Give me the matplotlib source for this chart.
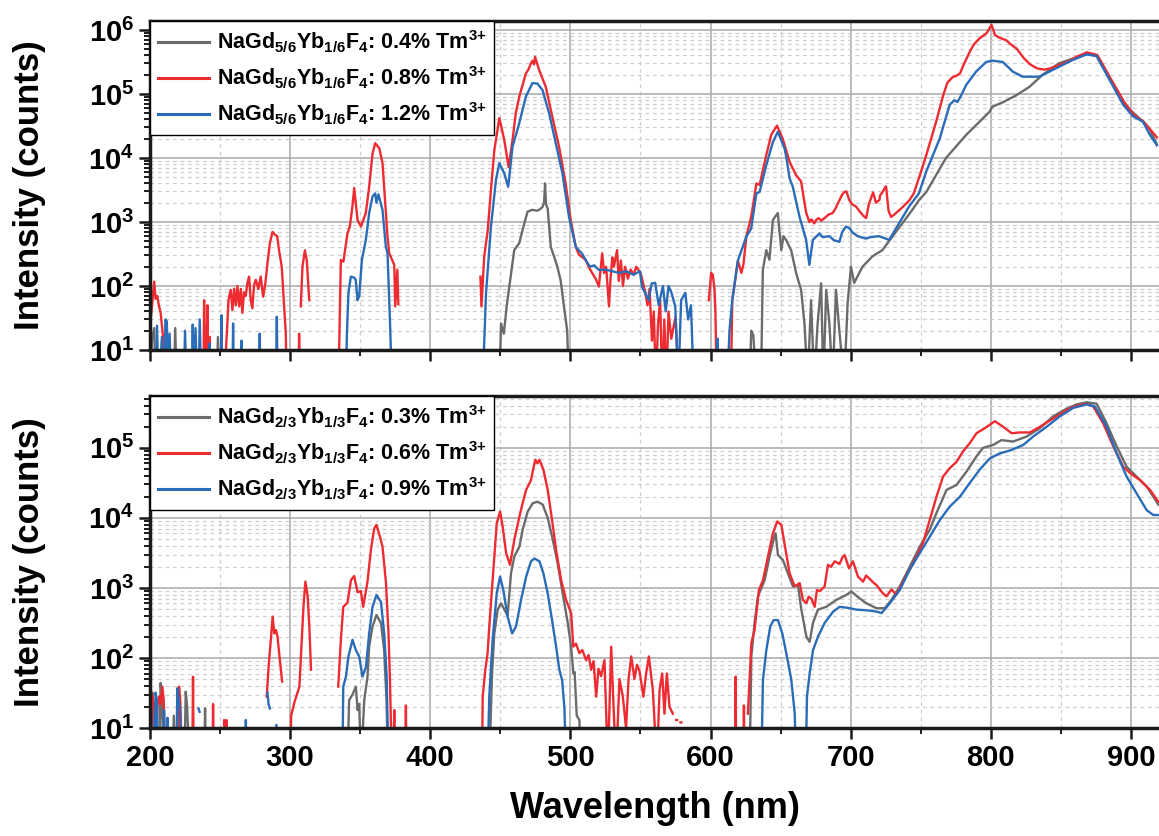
import numpy as np
import matplotlib
matplotlib.use("Agg")
import matplotlib.pyplot as plt
from matplotlib import font_manager
from matplotlib.ticker import MultipleLocator, LogLocator, FuncFormatter, NullFormatter

nan = np.nan
F = 3  # values below the axis floor (drawn down to the axis)

# ---------------- TOP PANEL: NaGd5/6Yb1/6F4 ----------------
top_gray_wl = [199.5, 201.5, 203, 204, nan, 207, 208.5, 209.5, nan, 211, 212, 213, nan, 217, 218, 219, nan,
               247.5, 248.5, 249.5, nan,
               449.3, 450.5, 452.5, 454.5, 456.4, 459.9, 463.5, 465.8, 469.4, 472.9, 476, 477.7, 480, 481.2, 481.9,
               482.6, 483.8, 486, 488.3, 490.7, 493, 495.4, 497.7, 498.9, nan,
               628, 629, 630.5, 632.7, nan,
               636, 637.3, 639.8, 642, 644.5, 646, 648, 649.2, 650.5, 652, 653.9, 657.5, 661.1, 664.6, 667, 669.3,
               671.7, 674, 676.4, 678.9, 680.5, 682.5, 684.8, 687.1, 689.5, 691.9, 695.4, 697.8, 700.2, 702.5,
               708.4, 715.5, 722.6, 729.7, 736.9, 744, 748.7, 754, 768, 782.4, 792, 799, 801, 808.5, 818, 827.5,
               837, 848.7, 858.3, 868.5, 875.5, 885, 894.5, 908.5, 913.5, 918.5]
top_gray_I = [F, 15, 22, F, nan, F, 14, F, nan, F, 19, F, nan, F, 22, F, nan,
              F, 16, F, nan,
              F, 26, 18, 48, 98, 363, 468, 741, 1450, 1550, 1500, 1550, 1700, 2000, 4000,
              1900, 1600, 407, 290, 200, 123, 48, 20, F, nan,
              F, 20, 17, F, nan,
              F, 178, 363, 257, 1070, 1200, 1380, 700, 363, 600, 525, 363, 158, 87, 26, F,
              60, F, 26, 110, F, 87, 26, F, 87, 20, F, 54, 200, 112,
              200, 290, 363, 590, 955, 1550, 2190, 2950, 10000, 22900, 37000, 52500, 63000, 74000, 95000, 129000,
              200000, 302000, 355000, 417000, 398000, 170000, 70800, 37000, 28000, 16200]

top_red_wl = [200.5, 202, 203, 204, 205.2, 206.3, 207.6, 209.3, 210.5, nan,
              238.2, 238.6, 239.4, 240.6, 241, 241.6, 242.6, 243, 243.5, nan,
              252.9, 255.2, 256, 257.6, 258.8, 260, 261.2, 262.4, 263.6, 264.8, 265.9, 267.1, 268.3, 269.5, 270.7,
              271.9, 273, 274.3, 275.5, 277.3, 279, 280.7, 282.3, 283.8, 285.5, 287.4, 289.3, 290.7, 292.1, 294,
              295, 296.9, 297.5, nan,
              306, 306.4, 306.8, nan,
              307.6, 308.8, 310.5, 311.9, 313.6, nan,
              334.5, 336.2, 338, 340.9, 342.6, 344.5, 345.7, 348.1, 350.5, 354, 356.4, 358.8, 360.7, 363.6, 365.9,
              367.9, 369.5, 370.7, 374.3, 375, 376.5, 377.2, nan,
              435.8, 436.5, 438.5, 441, 443.3, 445.7, 449.3, 452.8, 455.9, 458.7, 461, 463.5, 468.2, 470, 471.8,
              473, 474, 474.8, 476, 477.7, 482.4, 487, 491.9, 496.6, 500.2, 503.8, 506, 510.8, 513, 515.5, 518,
              520.3, 521.5, 522.7, 524, 525.5, 527.5, 528.5, 529.9, 531, 533.3, 534.5, 536, 537.5, 539, 541, 543,
              545, 547, 550, 551.5, 553.5, 555, 556.5, 558.2, 559.5, 561, 562.5, 564, 565.5, 567, 568.5, 570, 572,
              575, 577.2, nan,
              598.8, 600.4, 601.6, 602.8, 603.5, 604.3, nan,
              614.5, 615.5, 617.5, 619.5, 622, 623.5, 625.5, 629, 632.7, 635, 639.8, 643.3, 647.4, 651.5, 656.4,
              661, 664.6, 668.2, 670.5, 672, 674, 675.3, 677, 679, 682.4, 684, 687.1, 689, 692, 694, 695.6, 697,
              699, 701, 703.8, 706, 709, 711, 713, 715.7, 716, 718, 720.5, 721, 723, 725, 725.3, 727, 728.8, 731,
              734.9, 737, 742, 745, 749, 754, 761, 766, 769, 773, 775, 778, 781, 785, 788, 792, 797, 800.5, 803,
              806, 811, 814, 818.5, 823.5, 828, 833, 838, 842.5, 848, 854.5, 861, 868.5, 876, 885.5, 895, 902,
              909, 918.5]
top_red_I = [30, 68, 117, 63, 70, 50, 38, 16, F, nan,
             F, 60, F, 20, 50, F, 16, F, F, nan,
             F, 26, 60, 87, 42, 91, 50, 100, 48, 90, 38, 80, 70, 110, 140,
             60, 45, 105, 125, 90, 140, 68, 110, 225, 465, 700, 630, 600, 360, 200,
             87, 18, F, nan,
             F, 18, F, nan,
             48, 200, 360, 250, 60, nan,
             F, 255, 240, 660, 850, 1800, 3400, 1070, 850, 1380, 3550, 11700, 17000, 14200, 8300,
             1950, 590, 325, 213, 48, 180, 52, nan,
             140, 48, 290, 740, 3160, 13200, 42000, 19000, 7200, 19000, 50000, 91000, 209000, 240000, 300000,
             330000, 290000, 380000, 310000, 237000, 129000, 45000, 15000, 4000, 1070, 410, 310, 257, 200, 160, 130,
             98, 180, 324, 160, 200, 48, 120, 280, 200, 363, 120, 250, 100, 200, 130, 180,
             150, 200, 160, 120, 78, 50, 90, 14, 40, F, 25, 60, F, 30, F, 40, 15,
             33, F, nan,
             60, 160, 150, 90, 38, F, nan,
             F, 60, 120, 250, 160, 220, 590, 1200, 4000, 3800, 11200, 23000, 32000, 20000, 8700,
             5400, 4300, 1400, 1000, 1100, 950, 1070, 1150, 1050, 1200, 1300, 1380, 1600, 2200, 2700, 2950, 3000,
             2200, 1900, 1740, 1500, 1250, 1150, 1900, 2800, 2900, 2000, 2200, 2600, 3000, 3600, 3550, 1500, 1200, 1300,
             1550, 1700, 2200, 2800, 5100, 11200, 37000, 95000, 150000, 186000, 190000, 209000, 300000, 457000,
             600000, 740000, 890000, 1200000, 830000,
             760000, 690000, 600000, 510000, 363000, 290000, 251000, 240000, 251000, 280000, 316000, 380000, 447000,
             407000, 174000, 76000, 47000,
             37000, 21000]

top_blue_wl = [199.6, 200.5, 201.5, nan, 204.2, 205, 206, nan, 207.5, 208.5, 209.5, nan, 210.3, 211, 212, 213,
               214, 215, nan, 224.2, 225, 226, nan, 229.8, 230.5, 231.2, 232.5, 233.5, 234.7, 235.5, 236.5, nan,
               242, 242.5, 243, nan, 250.5, 251, 251.5, nan, 258.8, 259.3, 259.8, nan, 264.8, 265.3, 265.8, nan,
               277.8, 278.3, 278.8, nan, 290, 290.5, 291, nan,
               339.8, 340.5, 341.6, 343.3, 345.7, 346.8, 348.1, 349.3, 351.2, 354, 356.4, 358.8, 360.7, 361.6,
               363, 365.9, 368.3, 369.5, 371.2, 372.6, nan,
               437.4, 439.8, 443.3, 446.9, 449.3, 452.8, 455.6, 458.7, 463.5, 468.2, 472.9, 476.5, 480.1, 484.8,
               489.5, 494.3, 499, 503.8, 508.5, 511, 514, 517, 520.3, 525, 530, 534.5, 540, 545, 549.6, 551, 555.8,
               558, 560.5, 563, 566, 568, 570, 572, 574.8, 577, 579, 582, 584, 586, 588, nan,
               604.5, 605, 606, nan,
               612, 613.5, 615.5, 619.5, 625.5, 629, 632.7, 635, 639.8, 644.5, 648, 652.8, 654, 656.4, 658.7, 663.5,
               668.2, 670.5, 673, 677.7, 680, 684.8, 688, 691.9, 694, 696.7, 699, 701.5, 705, 710.8, 714, 720.3,
               724, 727.5, 734.5, 741.6, 748.7, 754, 763.5, 770.6, 774, 776, 777.7, 782.4, 789.5, 796.7, 801,
               808.5, 815.6, 822.7, 834.5, 846.4, 858.3, 868.5, 875.5, 885, 894.5, 901.5, 908.5, 913.5, 918.5]
top_blue_I = [F, 23, F, nan, F, 24, F, nan, F, 16, F, nan, F, 30, 28, F,
              18, F, nan, F, 20, F, nan, F, 25, F, 22, F, F, 30, F, nan,
              F, 12.6, F, nan, F, 35, F, nan, F, 26, F, nan, F, 14, F, nan,
              F, 18, F, nan, F, 33, F, nan,
              F, 18, 77, 140, 135, 125, 60, 70, 257, 520, 1380, 2500, 2800, 2000,
              2700, 1550, 410, 325, 30, F, nan,
              F, 78, 850, 4600, 8300, 5750, 3550, 15000, 35000, 91000, 148000, 145000, 115000, 50000,
              17000, 5750, 1200, 410, 316, 250, 200, 210, 178, 180, 170, 160, 170, 150, 170, 98, 60,
              110, 112, 50, 100, 40, 100, 80, 48, F, 60, 78, 30, 50, F, nan,
              F, 15, F, nan,
              F, 20, 60, 250, 590, 790, 2800, 2950, 7800, 17800, 25700, 14100, 10500, 4800, 3550, 1200,
              525, 214, 525, 660, 580, 600, 520, 490, 700, 850, 800, 680, 600, 550, 580, 600,
              560, 525, 955, 1740, 2800, 6200, 20000, 67600, 80000, 75000, 85000, 138000, 224000, 316000, 331000,
              316000, 224000, 186000, 186000, 251000, 339000, 417000, 389000, 162000, 67600, 44700, 37000, 23000, 15800]

# ---------------- BOTTOM PANEL: NaGd2/3Yb1/3F4 ----------------
bot_gray_wl = [200.5, 201.7, 203, 204, 206.5, 207.6, 208.5, 209.9, nan, 216, 217, 218, nan, 224.5, 225.5, 226.5,
               228.1, nan, 238.8, 239.3, 239.8, nan,
               340.9, 342.1, 344.5, 346.9, 348.1, 349.3, 350.5, 352.9, 355.2, 356.4, 358.8, 361.6, 364.8, 367.1,
               368.8, 369.8, nan,
               442.1, 444.1, 445.7, 448.1, 450.5, 452.9, 455.2, 457.6, 460, 463.6, 465.9, 469.5, 473.1, 476.6,
               480.2, 483.8, 487.4, 490.9, 494.5, 498.1, 500.5, 502.1, 503, 504.5, 506.4, 507.4, nan,
               627.9, 629.1, 631.4, 633.8, 638.6, 642.1, 645, 646.4, 648.1, 651.6, 655.2, 658.8, 662.4, 664.8,
               668.4, 670.7, 673.1, 676.6, 682.6, 689.8, 696.9, 700.5, 705.2, 711.2, 718.4, 724.3, 729.1, 735,
               742.1, 749.3, 756.4, 761.2, 768.4, 775.5, 782.6, 789.8, 794.5, 801.6, 807.6, 815.9, 825.5, 835,
               844.5, 854.1, 861.2, 868.4, 875.5, 882.6, 889.8, 896.9, 904, 911.2, 919.5]
bot_gray_I = [F, 32, 20, F, F, 44, 25, F, nan, F, 15, F, nan, F, 33, 20,
              F, nan, F, 19, F, nan,
              F, 25, 30, 39, 18, 22, F, 25, 54, 145, 282, 410, 316, 129,
              25, F, nan,
              F, 60, 224, 490, 603, 490, 400, 1620, 2820, 3890, 6760, 12300, 16200, 17000,
              15500, 10000, 4900, 2240, 830, 316, 145, 60, 63, 15, 13, F, nan,
              F, 105, 316, 760, 1290, 2820, 4900, 6030, 2950, 2510, 1620, 1050, 1100, 490,
              200, 170, 316, 490, 537, 676, 794, 890, 740, 603, 513, 513, 676, 1050,
              2000, 3890, 6760, 11700, 25100, 29500, 45700, 75900, 100000, 110000, 129000, 123000, 145000, 191000,
              282000, 363000, 417000, 447000, 427000, 224000, 105000, 53700, 38900, 28200, 15500]

bot_red_wl = [200, 200.5, 201.2, 202, 203, 204, 205.3, 206.4, 207.5, 208.8, 209.8, 210.8, nan,
              219.8, 220.7, 221.6, 222.9, nan, 230.2, 230.7, 231.2, nan, 244.6, 245, 245.5, nan, 252.6, 252.9,
              253.6, 254.5, 255, nan,
              283.3, 284.8, 286.4, 287.5, 288.7, 289.9, 291, 292.4, 294.3, nan,
              300.3, 300.7, 303, 306.6, 308.3, 309.5, 310.9, 312.5, 313.7, 314.9, nan,
              334.3, 336.2, 337.9, 340.9, 343.4, 345.7, 348.1, 350.5, 352.1, 355.2, 357.6, 360, 361.6, 364.1,
              365.9, 368.4, 370.2, 371.2, 372.6, nan, 373.8, 374.3, 374.8, nan, 382.2, 382.6, 383, nan,
              436.9, 437.4, 439.3, 440.9, 442.1, 444.5, 447.4, 449.8, 451.6, 454.1, 456.9, 460, 463.6, 465.9,
              468.4, 471.9, 473.9, 475, 476.5, 477.9, 480.7, 483.8, 486.9, 489.8, 493.4, 496.9, 500.5, 502.1,
              504, 506.4, 508.5, 511.2, 513, 514.8, 516.5, 518.4, 520, 521.9, 524.3, 526.7, 529.1, 530.7, 532.6,
              535, 537.4, 539.7, 541.5, 543.4, 545.7, 547.5, 549.3, 552.1, 554, 556, 558.8, 561.7, 563.6, 565.5,
              567.1, 568.8, 570.7, 573.1, nan, 575.5, 576.2, nan, 578.5, 579.2, nan,
              617.5, 617.9, 618.3, nan, 623.5, 623.8, 624.2, nan,
              626.6, 629.1, 631.4, 634.5, 637.4, 641, 644.5, 647.6, 650.5, 653.6, 656.4, 660, 663.6, 665.9,
              668.4, 670, 672, 674.3, 675.9, 678, 681.4, 683.8, 686, 688.6, 692.1, 694, 695.7, 698.8, 701.6,
              705.2, 708.8, 711, 713.5, 716, 718.4, 723.1, 725.5, 729.1, 732.6, 737.4, 744.5, 751.6, 756.4, 761.2,
              765.9, 770.7, 775.5, 780.2, 785, 789.8, 795.7, 802.9, 808.8, 814.8, 820.7, 827.9, 835, 844.5, 854.1,
              861.2, 868.4, 873.1, 880.2, 887.4, 894.5, 899.3, 906.4, 913.6, 919.5]
bot_red_I = [F, 39, 25, 28, 14, F, 20, 28, 22, 39, 25, F, nan,
             F, 39, 25, F, nan, F, 54, F, nan, F, 22, F, nan, F, 13,
             F, 13, F, nan,
             28, 83, 200, 390, 224, 250, 200, 105, 46, nan,
             F, 15, 23, 39, 182, 537, 1230, 760, 282, 68, nan,
             39, 182, 537, 616, 1290, 1480, 870, 900, 537, 1230, 3470, 7080, 7940, 5370,
             3890, 1170, 224, 50, F, nan, F, 18, F, nan, F, 21, F, nan,
             F, 28, 68, 117, 282, 1290, 8300, 12300, 7600, 3160, 2140, 4900, 10500, 16200,
             25100, 34700, 55000, 67600, 60000, 67600, 49000, 25100, 9330, 3470, 1290, 676, 437, 145,
             160, 117, 130, 93, 110, 68, 90, 28, 70, 55, 93, F, 145, 22, F,
             50, 28, 10, 50, 105, 50, 80, 65, 28, 60, 105, 35, F, 35, 60,
             16, 60, 20, 16, nan, 13, 13, nan, 12, 12, nan,
             F, 54, F, nan, F, 21, F, nan,
             16, 162, 251, 933, 1290, 2820, 6030, 8900, 7940, 3470, 1620, 1050, 1170, 676,
             603, 750, 700, 537, 933, 900, 1050, 2140, 2000, 2400, 2200, 2700, 2950, 1900, 2400,
             1450, 1230, 1500, 1350, 1200, 1100, 830, 760, 950, 800, 1230, 2240, 4370, 9330, 20000,
             38900, 51300, 63100, 89100, 117000, 162000, 191000, 240000, 200000, 162000, 166000, 166000, 200000, 263000, 347000,
             398000, 427000, 389000, 224000, 105000, 53700, 43700, 34700, 25100, 17000]

bot_blue_wl = [200, 200.5, 201.3, 202, nan, 203.3, 204, 205, 205.8, nan, 209.5, 210, 210.8, 212, 212.5, 213, nan,
               218.8, 219.5, 220.5, 221.5, 222.5, nan, 234.6, 235.4, nan, 268, 268.4, 268.8, nan,
               283.8, 284.6, 285.5, nan, 290.2, 290.8, nan,
               337.3, 337.9, 339.8, 341.6, 344.5, 346.9, 349.3, 351.6, 354.1, 356.4, 358.8, 361.6, 364.8, 367.1,
               368.8, 370.2, nan,
               440.9, 442.1, 444.5, 447.4, 449.8, 452.1, 455.2, 458.4, 461.2, 464.8, 468.4, 471.9, 474.3, 477.9,
               480.7, 483.8, 486.9, 489.8, 492.1, 494.1, 495.7, 496.9, nan,
               636.2, 637.4, 639.8, 642.6, 645, 648.1, 651.2, 654.5, 657.6, 660, 661.2, nan,
               667.9, 668.8, 670.7, 673.1, 676.6, 681.4, 687.4, 692.1, 698, 704, 711.2, 718.4, 722, 727.9, 735,
               742.1, 749.3, 756.4, 763.6, 770.7, 777.9, 785, 792.1, 799.3, 806.4, 814.8, 823.1, 830.2, 839.8,
               849.3, 858.8, 868.4, 874.3, 882.6, 889.8, 896.9, 904, 911.2, 915.9, 919.5]
bot_blue_I = [F, 23, 15, F, nan, F, 32, 24, F, nan, F, 18, F, F, 14, F, nan,
              F, 37, 25, 18, F, nan, 19, 17, nan, F, 13, F, nan,
              32, 22, 19, nan, 11, F, nan,
              F, 39, 54, 105, 182, 129, 105, 54, 74, 224, 537, 794, 631, 224,
              60, F, nan,
              F, 28, 182, 832, 1450, 933, 389, 224, 282, 676, 1450, 2400, 2630, 2400,
              1620, 832, 347, 145, 68, 48, 19.5, F, nan,
              F, 49, 129, 282, 347, 347, 224, 105, 49, 16.6, F, nan,
              F, 28, 60, 129, 200, 316, 457, 537, 520, 490, 480, 460, 437, 603, 933,
              1820, 3160, 5370, 9330, 14500, 20000, 31600, 49000, 70800, 83200, 93300, 110000, 145000, 200000,
              282000, 372000, 417000, 389000, 200000, 83200, 38900, 22400, 12900, 11000, 11000]

top_labels = [r"NaGd$_{5/6}$Yb$_{1/6}$F$_{4}$: 0.4% Tm$^{3{+}}$",
              r"NaGd$_{5/6}$Yb$_{1/6}$F$_{4}$: 0.8% Tm$^{3{+}}$",
              r"NaGd$_{5/6}$Yb$_{1/6}$F$_{4}$: 1.2% Tm$^{3{+}}$"]
bot_labels = [r"NaGd$_{2/3}$Yb$_{1/3}$F$_{4}$: 0.3% Tm$^{3{+}}$",
              r"NaGd$_{2/3}$Yb$_{1/3}$F$_{4}$: 0.6% Tm$^{3{+}}$",
              r"NaGd$_{2/3}$Yb$_{1/3}$F$_{4}$: 0.9% Tm$^{3{+}}$"]
colors = ["#6b6b6b", "#ee2b31", "#2a6cb8"]
x_ticks = [200, 300, 400, 500, 600, 700, 800, 900]

# ---------------- style ----------------
avail = {f.name for f in font_manager.fontManager.ttflist}
narrow = "Liberation Sans Narrow" if "Liberation Sans Narrow" in avail else "Liberation Sans"
plt.rcParams["font.family"] = ["Liberation Sans", "DejaVu Sans"]
plt.rcParams["font.weight"] = "bold"
plt.rcParams["mathtext.fontset"] = "custom"
plt.rcParams["mathtext.rm"] = "Liberation Sans:bold"
plt.rcParams["mathtext.it"] = "Liberation Sans:bold"
plt.rcParams["mathtext.bf"] = narrow + ":bold"

fig = plt.figure(figsize=(11.59, 8.36), dpi=100)
ax1 = fig.add_axes([150 / 1159, 1 - 350 / 836, 1009 / 1159, 329 / 836])
ax2 = fig.add_axes([150 / 1159, 1 - 728 / 836, 1009 / 1159, 332 / 836])

def ylab(v, pos):
    e = int(round(np.log10(v)))
    return r"$\mathbf{10^{%d}}$" % e

series = [
    (ax1, [(top_gray_wl, top_gray_I), (top_red_wl, top_red_I), (top_blue_wl, top_blue_I)], top_labels, 1.38e6),
    (ax2, [(bot_gray_wl, bot_gray_I), (bot_red_wl, bot_red_I), (bot_blue_wl, bot_blue_I)], bot_labels, 5.5e5),
]

for ax, data, labels, ytop in series:
    for (wl, I), c, lab in zip(data, colors, labels):
        ax.plot(np.array(wl, float), np.array(I, float), color=c, lw=1.7, label=lab, solid_joinstyle="round")
    ax.set_yscale("log")
    ax.set_xlim(200, 920)
    ax.set_ylim(10, ytop)
    ax.xaxis.set_major_locator(MultipleLocator(100))
    ax.xaxis.set_minor_locator(MultipleLocator(50))
    ax.yaxis.set_major_locator(LogLocator(base=10, numticks=20))
    ax.yaxis.set_minor_locator(LogLocator(base=10, subs=np.arange(2, 10), numticks=20))
    ax.yaxis.set_major_formatter(FuncFormatter(ylab))
    ax.yaxis.set_minor_formatter(NullFormatter())
    ax.grid(which="major", color="#a8a8a8", lw=1.1, ls="-")
    ax.grid(which="minor", color="#cfcfcf", lw=0.9, ls=(0, (3, 3)))
    ax.set_axisbelow(True)
    for s in ["left", "bottom", "top"]:
        ax.spines[s].set_linewidth(2.5)
        ax.spines[s].set_color("#1a1a1a")
    ax.spines["right"].set_visible(False)
    ax.tick_params(which="major", direction="out", length=8, width=1.8, labelsize=21, color="#1a1a1a")
    ax.tick_params(which="minor", direction="out", length=4.5, width=1.4, color="#1a1a1a")
    ax.tick_params(axis="y", which="both", right=False)
    ax.tick_params(axis="x", which="both", top=False)
    ax.set_ylabel("Intensity (counts)", fontsize=25, fontweight="bold")
    leg = ax.legend(loc="upper left", borderaxespad=0, fontsize=15.5, frameon=True, fancybox=False,
                    edgecolor="black", framealpha=1, handlelength=2.4, handletextpad=0.35,
                    labelspacing=0.45, borderpad=0.35)
    leg.get_frame().set_linewidth(1.0)
    for t in leg.get_texts():
        t.set_fontweight("bold")
    for lh in leg.get_lines():
        lh.set_linewidth(2.2)

ax1.set_xticks(x_ticks)
ax1.tick_params(axis="x", labelbottom=False)
ax2.set_xticks(x_ticks)
ax2.set_xticklabels([str(v) for v in x_ticks], fontfamily=narrow, fontweight="bold")
ax2.set_xlabel("Wavelength (nm)", fontsize=26, fontweight="bold", labelpad=14)
for ax in (ax1, ax2):
    ax.yaxis.set_label_coords(-0.103, 0.5)

fig.savefig("out.png", dpi=100)
